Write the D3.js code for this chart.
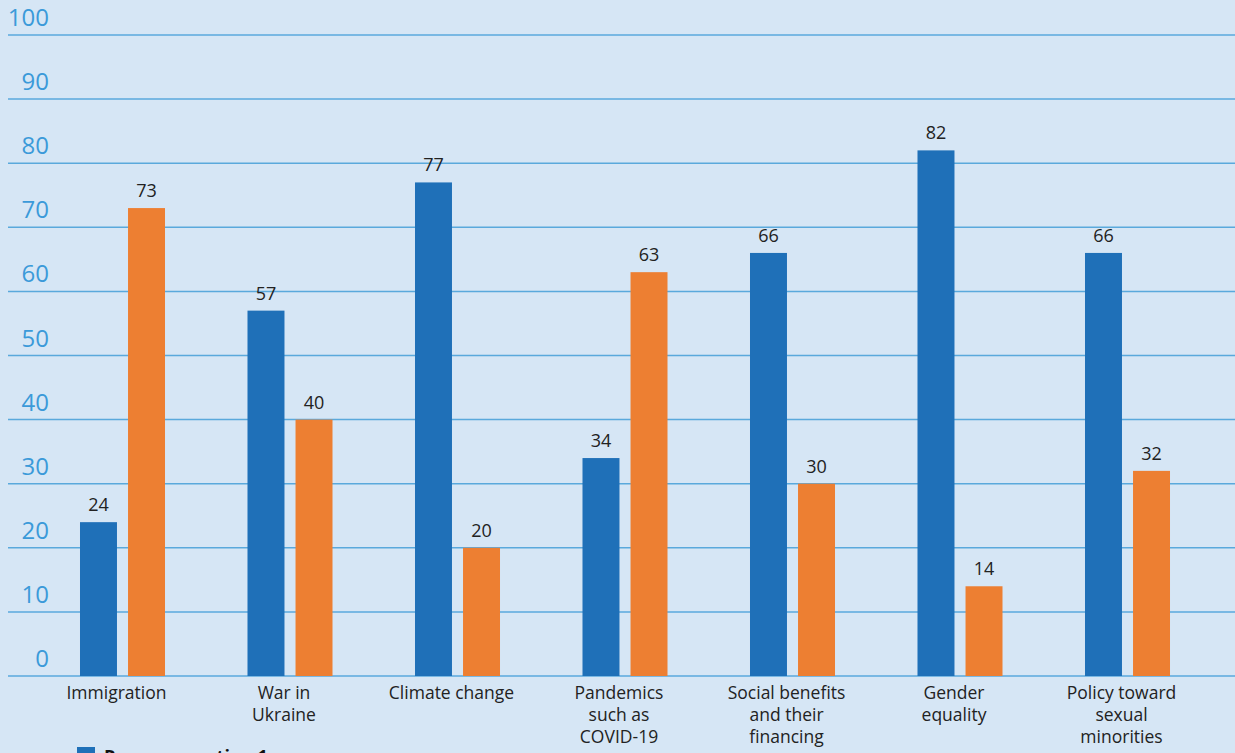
<!DOCTYPE html>
<html><head><meta charset="utf-8">
<script src="https://cdn.jsdelivr.net/npm/d3@7"></script>
<style>
html,body{margin:0;padding:0;background:#d6e6f5;overflow:hidden;}
svg{display:block;font-family:"Open Sans",sans-serif;}
</style></head>
<body>
<svg id="chart" width="1235" height="753"></svg>
<script>
const categories = [["Immigration"],["War in","Ukraine"],["Climate change"],["Pandemics","such as","COVID-19"],["Social benefits","and their","financing"],["Gender","equality"],["Policy toward","sexual","minorities"]];
const seriesNames = ["Response option 1","Response option 2"];
const series1 = [24,57,77,34,66,82,66];
const series2 = [73,40,20,63,30,14,32];
const yTicks = [0,10,20,30,40,50,60,70,80,90,100];
const colors = ["#1f70b8","#ed7f32"];

const svg = d3.select("#chart");
const W = 1235, H = 753;
svg.append("rect").attr("width",W).attr("height",H).attr("fill","#d6e6f5");

const y = d3.scaleLinear().domain([0,100]).range([676,35]);
const idx = d3.range(categories.length);
const x0 = d3.scaleBand().domain(idx).range([38.75,1211.25]).paddingInner(0.4925).paddingOuter(0.24625);
const x1 = d3.scaleBand().domain([0,1]).range([0,x0.bandwidth()]).paddingInner(0.23);

// gridlines + y labels
const g = svg.append("g");
yTicks.forEach(t=>{
  g.append("line").attr("x1",8).attr("x2",W).attr("y1",y(t)).attr("y2",y(t))
    .attr("stroke","#5aa9dc").attr("stroke-width",1.5);
  g.append("text").attr("x",49).attr("y",y(t)-9).text(t).attr("text-anchor","end")
    .attr("fill","#3b9ad9").attr("font-size",24);
});

const data = idx.map(i=>[series1[i],series2[i]]);
const groups = svg.append("g").selectAll("g").data(data).join("g")
  .attr("transform",(d,i)=>`translate(${x0(i)},0)`);
groups.selectAll("rect").data(d=>d).join("rect")
  .attr("x",(d,j)=>x1(j)).attr("width",x1.bandwidth())
  .attr("y",d=>y(d)).attr("height",d=>y(0)-y(d))
  .attr("fill",(d,j)=>colors[j]);
groups.selectAll("text").data(d=>d).join("text")
  .attr("x",(d,j)=>x1(j)+x1.bandwidth()/2).attr("y",d=>y(d)-11)
  .attr("text-anchor","middle").attr("font-size",18).attr("fill","#222")
  .text(d=>d);

// category labels
categories.forEach((lines,i)=>{
  const cx = x0(i)+x0.bandwidth()/2-6;
  const t = svg.append("text").attr("text-anchor","middle").attr("font-size",17.5).attr("fill","#222")
    .attr("x",cx).attr("y",699);
  lines.forEach((l,k)=>t.append("tspan").attr("x",cx).attr("dy",k===0?0:22).text(l));
});

// legend (cut off at bottom, as in the source)
const lg = svg.append("g").attr("transform","translate(77,747)");
lg.append("rect").attr("width",18).attr("height",18).attr("fill",colors[0]);
lg.append("text").attr("x",27).attr("y",16).attr("font-size",18).attr("font-weight","bold").attr("fill","#111").text(seriesNames[0]);
</script>
</body></html>
